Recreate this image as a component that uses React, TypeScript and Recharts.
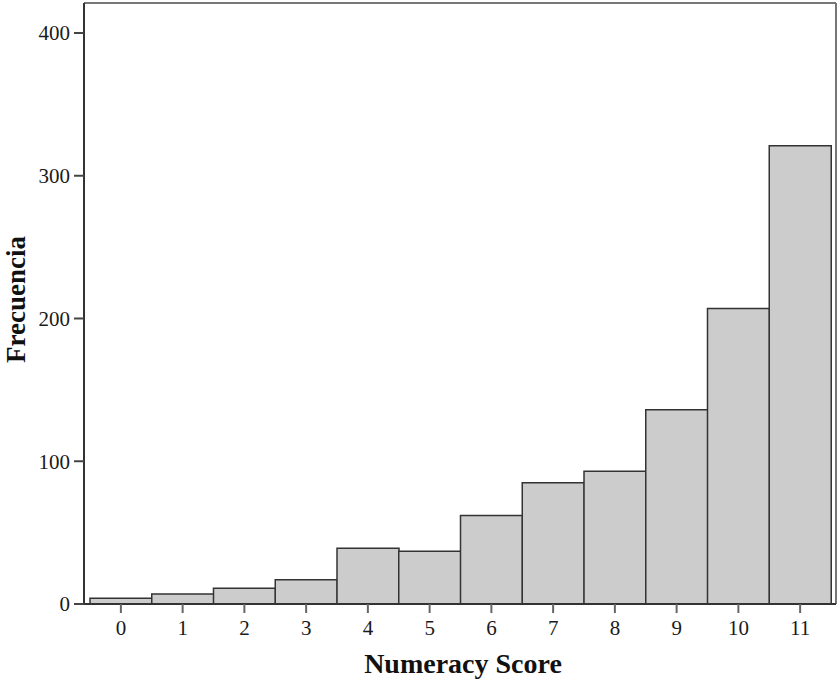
import React from 'react';
import { BarChart, Bar, XAxis, YAxis, Label, CartesianGrid } from 'recharts';

const scores = ['0', '1', '2', '3', '4', '5', '6', '7', '8', '9', '10', '11'];
const frequencies = [4, 7, 11, 17, 39, 37, 62, 85, 93, 136, 207, 321];
const yTicks = [0, 100, 200, 300, 400];

const data = scores.map((s, i) => ({ score: s, freq: frequencies[i] }));

const FONT = '"Liberation Serif", "Times New Roman", serif';

const XTitle = (props: any) => {
  const vb = props.viewBox || { x: 0, y: 0, width: 0, height: 0 };
  return (
    <text
      x={vb.x + vb.width / 2 + 3}
      y={vb.y + 69}
      textAnchor="middle"
      fontFamily={FONT}
      fontWeight="bold"
      fontSize={28}
      fill="#111"
    >
      Numeracy Score
    </text>
  );
};

const YTitle = (props: any) => {
  const vb = props.viewBox || { x: 0, y: 0, width: 0, height: 0 };
  const cx = 25;
  const cy = vb.y + vb.height / 2 - 4;
  return (
    <text
      x={cx}
      y={cy}
      transform={`rotate(-90, ${cx}, ${cy})`}
      textAnchor="middle"
      fontFamily={FONT}
      fontWeight="bold"
      fontSize={27}
      fill="#111"
    >
      Frecuencia
    </text>
  );
};

export default function App() {
  return (
    <div style={{ position: 'absolute', left: 0, top: 0, background: '#fff' }}>
      <BarChart
        width={838}
        height={681}
        data={data}
        margin={{ top: 3, right: 2, bottom: 0, left: 0 }}
        barCategoryGap={0}
        barGap={0}
      >
        <CartesianGrid
          stroke="#777"
          strokeWidth={2}
          horizontalCoordinatesGenerator={(p: any) => [p.offset.top]}
          verticalCoordinatesGenerator={(p: any) => [p.offset.left + p.offset.width]}
        />
        <XAxis
          dataKey="score"
          height={77}
          padding={{ left: 6, right: 5 }}
          tickSize={9}
          tickMargin={7}
          tickLine={{ stroke: '#666', strokeWidth: 2 }}
          axisLine={{ stroke: '#333', strokeWidth: 2 }}
          tick={{ fontFamily: FONT, fontSize: 21, fill: '#1a1a1a' }}
          interval={0}
        >
          <Label content={<XTitle />} />
        </XAxis>
        <YAxis
          width={84}
          domain={[0, 421]}
          ticks={yTicks}
          allowDataOverflow
          tickSize={10}
          tickMargin={4}
          tickLine={{ stroke: '#444', strokeWidth: 2 }}
          axisLine={{ stroke: '#333', strokeWidth: 2 }}
          tick={{ fontFamily: FONT, fontSize: 21, fill: '#1a1a1a' }}
        >
          <Label content={<YTitle />} />
        </YAxis>
        <Bar
          dataKey="freq"
          fill="#cccccc"
          stroke="#333"
          strokeWidth={1.5}
          isAnimationActive={false}
        />
      </BarChart>
    </div>
  );
}
